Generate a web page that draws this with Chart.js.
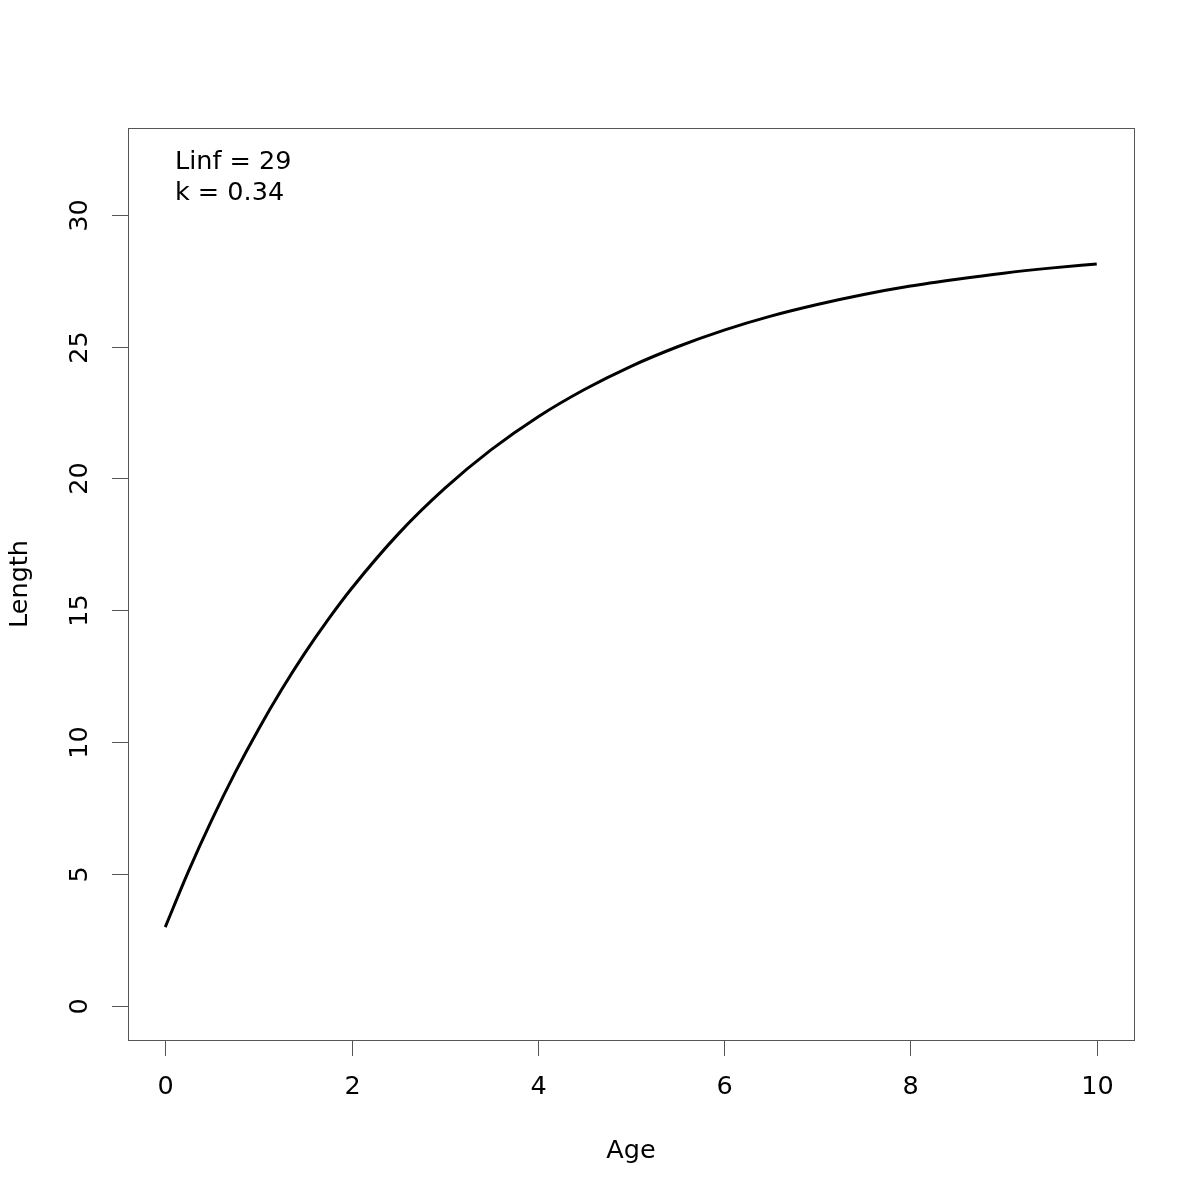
<!DOCTYPE html>
<html>
<head>
<meta charset="utf-8">
<script src="https://cdn.jsdelivr.net/npm/chart.js@4/dist/chart.umd.min.js"></script>
<style>
  html, body { margin:0; padding:0; background:#fff; }
  canvas { display:block; }
</style>
</head>
<body>
<canvas id="growth" width="1200" height="1200"></canvas>
<script>
// curve (age vs length); denser where it bends most
const ages = [0, 0.25, 0.5, 0.75, 1, 1.25, 1.5, 1.75, 2, 2.5, 3, 3.5, 4, 4.5, 5, 5.5, 6, 6.5, 7, 7.5, 8, 8.5, 9, 9.5, 10];
const lengths = [3.00, 5.12, 7.06, 8.85, 10.49, 12.00, 13.39, 14.66, 15.83, 17.89, 19.62, 21.09, 22.33,
                 23.37, 24.25, 24.99, 25.62, 26.15, 26.59, 26.97, 27.29, 27.55, 27.78, 27.97, 28.13];

const xTicks = [0, 2, 4, 6, 8, 10];
const yTicks = [0, 5, 10, 15, 20, 25, 30];
const xLabel = 'Age';
const yLabel = 'Length';
const notes = ['Linf = 29', 'k = 0.34'];

const FONT = '25.5px "DejaVu Sans"';

/* draws the R-style frame, ticks, labels and the text note */
const rAxes = {
  id: 'rAxes',
  afterDraw(chart){
    const ctx = chart.ctx;
    const a = chart.chartArea;
    const xs = chart.scales.x, ys = chart.scales.y;
    ctx.save();
    ctx.strokeStyle = '#555';
    ctx.lineWidth = 1;
    ctx.strokeRect(a.left + 0.5, a.top + 0.5, a.right - a.left, a.bottom - a.top);

    ctx.font = FONT;
    ctx.fillStyle = '#000';

    // x ticks
    ctx.textAlign = 'center';
    ctx.textBaseline = 'middle';
    xTicks.forEach(v => {
      const px = Math.round(xs.getPixelForValue(v)) + 0.5;
      ctx.beginPath();
      ctx.moveTo(px, a.bottom);
      ctx.lineTo(px, a.bottom + 16);
      ctx.stroke();
      ctx.fillText(String(v), px, 1087);
    });

    // y ticks, labels rotated like R (las = 0)
    yTicks.forEach(v => {
      const py = Math.round(ys.getPixelForValue(v)) + 0.5;
      ctx.beginPath();
      ctx.moveTo(a.left, py);
      ctx.lineTo(a.left - 16, py);
      ctx.stroke();
      ctx.save();
      ctx.translate(80, py);
      ctx.rotate(-Math.PI / 2);
      ctx.fillText(String(v), 0, 0);
      ctx.restore();
    });

    // axis titles
    ctx.fillText(xLabel, (a.left + a.right) / 2, 1151);
    ctx.save();
    ctx.translate(20, (a.top + a.bottom) / 2);
    ctx.rotate(-Math.PI / 2);
    ctx.fillText(yLabel, 0, 0);
    ctx.restore();

    // parameter note, top left
    ctx.textAlign = 'left';
    ctx.textBaseline = 'alphabetic';
    notes.forEach((t, i) => ctx.fillText(t, 175, 169 + i * 31));

    ctx.restore();
  }
};

const ctx = document.getElementById('growth').getContext('2d');
new Chart(ctx, {
  type: 'line',
  data: {
    datasets: [{
      data: ages.map((x, i) => ({ x: x, y: lengths[i] })),
      borderColor: '#000',
      borderWidth: 3,
      pointRadius: 0,
      fill: false,
      cubicInterpolationMode: 'monotone'
    }]
  },
  options: {
    responsive: false,
    animation: false,
    devicePixelRatio: 1,
    layout: { padding: { left: 128, right: 66, top: 128, bottom: 160 } },
    plugins: { legend: { display: false }, tooltip: { enabled: false } },
    scales: {
      x: { type: 'linear', display: false, min: -0.4, max: 10.4 },
      y: { type: 'linear', display: false, min: -1.28, max: 33.28 }
    }
  },
  plugins: [rAxes]
});
</script>
</body>
</html>
